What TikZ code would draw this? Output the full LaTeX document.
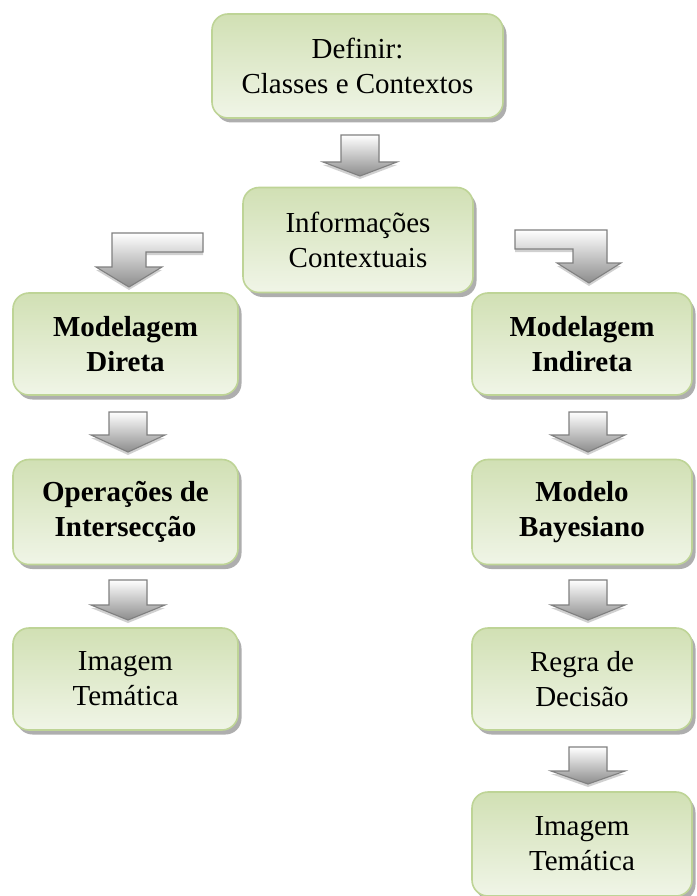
\documentclass[tikz,border=0pt]{standalone}
\usepackage{fontspec}
\setmainfont{Liberation Serif}
\usetikzlibrary{shadows}
\definecolor{boxtop}{RGB}{209,224,180}
\definecolor{boxbot}{RGB}{240,245,231}
\definecolor{boxline}{RGB}{190,212,150}
\definecolor{arrline}{RGB}{128,128,128}
\tikzset{
  box/.style={draw=boxline, line width=1.6pt, rounded corners=16pt,
    top color=boxtop, bottom color=boxbot, align=center,
    font=\fontsize{29}{35}\selectfont, inner sep=0pt,
    drop shadow={shadow xshift=3.5pt, shadow yshift=-4.5pt, fill=black!45, opacity=.7}},
  blockarr/.style={draw=arrline, line width=1.1pt, top color=white, bottom color=black!45,
    line join=miter,
    drop shadow={shadow xshift=0pt, shadow yshift=-3pt, fill=black!30, opacity=.6}},
}
\newcommand{\downblock}[4]{% cx, top, headstart, tip
  \path[blockarr] (#1-19,#2) -- (#1+19,#2) -- (#1+19,#3) -- (#1+37,#3) -- (#1,#4)
     -- (#1-37,#3) -- (#1-19,#3) -- cycle;}
\begin{document}
\begin{tikzpicture}[x=1pt,y=-1pt]
\useasboundingbox (0,0) rectangle (696,896);
\fill[white] (0,0) rectangle (696,896);

\node[box, minimum width=291pt, minimum height=104pt] (def) at (357.5,66) {Definir:\\Classes e Contextos};
\node[box, minimum width=230pt, minimum height=105pt] (info) at (358,240) {Informações\\Contextuais};

\node[box, minimum width=225pt, minimum height=102pt] (md) at (125.5,344) {\textbf{Modelagem}\\\textbf{Direta}};
\node[box, minimum width=220pt, minimum height=102pt] (mi) at (582,344) {\textbf{Modelagem}\\\textbf{Indireta}};

\node[box, minimum width=225pt, minimum height=105pt] (op) at (125.5,512) {\textbf{Operações de}\\\textbf{Intersecção}};
\node[box, minimum width=220pt, minimum height=105pt] (mb) at (582,512) {\textbf{Modelo}\\\textbf{Bayesiano}};

\node[box, minimum width=225pt, minimum height=102pt] (it1) at (125.5,679) {Imagem\\Temática};
\node[box, minimum width=220pt, minimum height=102pt] (rd) at (582,679) {Regra de\\Decisão};

\node[box, minimum width=220pt, minimum height=104pt] (it2) at (582,844) {Imagem\\Temática};

% block arrows
\downblock{360}{135}{162}{176}
\downblock{128}{412}{435}{452}
\downblock{128}{580}{605}{620}
\downblock{588}{412}{435}{452}
\downblock{588}{580}{605}{620}
\downblock{588}{747}{771}{784}

% bent arrows
\path[blockarr] (112,233) -- (203,233) -- (203,252) -- (146,252) -- (146,267) -- (162,267)
   -- (129,287) -- (96,267) -- (112,267) -- cycle;
\path[blockarr] (515,230) -- (607,230) -- (607,263) -- (621,263) -- (589,283)
   -- (557,263) -- (573,263) -- (573,249) -- (515,249) -- cycle;
\end{tikzpicture}
\end{document}
